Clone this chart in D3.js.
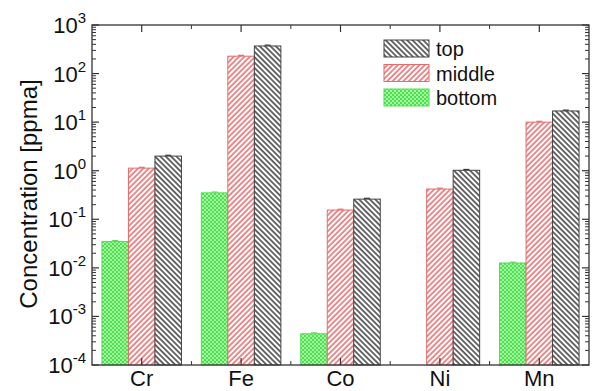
<!DOCTYPE html>
<html>
<head>
<meta charset="utf-8">
<script src="https://cdn.jsdelivr.net/npm/d3@7"></script>
<style>
  body { margin: 0; background: #fff; }
  text { font-family: Arial, "Liberation Sans", sans-serif; }
</style>
</head>
<body>
<div id="chart"></div>
<script>
// data
var elements = ["Cr", "Fe", "Co", "Ni", "Mn"];
var series = ["bottom", "middle", "top"];
var bottomVals = [0.035, 0.35, 0.00044, null, 0.0126];
var middleVals = [1.13, 228, 0.155, 0.42, 10];
var topVals = [2.0, 370, 0.26, 1.02, 17];
var yExponents = [-4, -3, -2, -1, 0, 1, 2, 3];

var W = 593, H = 391;
var margin = {top: 25, right: 4, bottom: 26, left: 92},
    width = W - margin.left - margin.right,
    height = H - margin.top - margin.bottom;

var svg = d3.select("#chart").append("svg")
    .attr("width", W).attr("height", H);

// fill patterns
var defs = svg.append("defs");
var pTop = defs.append("pattern").attr("id", "hatchTop")
    .attr("patternUnits", "userSpaceOnUse").attr("width", 3.8).attr("height", 6)
    .attr("patternTransform", "rotate(-45)");
pTop.append("rect").attr("width", 3.8).attr("height", 6).attr("fill", "#fff");
pTop.append("line").attr("x1", 1).attr("y1", 0).attr("x2", 1).attr("y2", 6)
    .attr("stroke", "#3a3a3a").attr("stroke-width", 1.5);

var pMid = defs.append("pattern").attr("id", "hatchMid")
    .attr("patternUnits", "userSpaceOnUse").attr("width", 3.8).attr("height", 6)
    .attr("patternTransform", "rotate(45)");
pMid.append("rect").attr("width", 3.8).attr("height", 6).attr("fill", "#fff");
pMid.append("line").attr("x1", 1).attr("y1", 0).attr("x2", 1).attr("y2", 6)
    .attr("stroke", "#e45c5e").attr("stroke-width", 1.4);

var pBot = defs.append("pattern").attr("id", "checkBot")
    .attr("patternUnits", "userSpaceOnUse").attr("width", 4).attr("height", 4);
pBot.append("rect").attr("width", 4).attr("height", 4).attr("fill", "#48e448");
pBot.append("rect").attr("x", 0).attr("y", 0).attr("width", 2).attr("height", 2).attr("fill", "#a8f6a8");
pBot.append("rect").attr("x", 2).attr("y", 2).attr("width", 2).attr("height", 2).attr("fill", "#a8f6a8");

var fills = {top: "url(#hatchTop)", middle: "url(#hatchMid)", bottom: "url(#checkBot)"};
var strokes = {top: "#444", middle: "#e86a6a", bottom: "#5ad85a"};
var values = {top: topVals, middle: middleVals, bottom: bottomVals};

var g = svg.append("g")
    .attr("transform", "translate(" + margin.left + "," + margin.top + ")");

var x = d3.scaleLinear().domain([0.5, 5.5]).range([0, width]);
var y = d3.scaleLog().domain([1e-4, 1e3]).range([height, 0]);
var bw = x(1.8) - x(1); // full group width
var barW = bw / 3;

// bars
series.forEach(function(s, si) {
  var rows = elements.map(function(e, i) { return {i: i, v: values[s][i]}; })
    .filter(function(d) { return d.v != null; });
  g.selectAll(".bar-" + s).data(rows).enter().append("rect")
    .attr("x", function(d) { return x(d.i + 1) - bw / 2 + si * barW; })
    .attr("y", function(d) { return y(d.v); })
    .attr("width", barW)
    .attr("height", function(d) { return height - y(d.v); })
    .attr("fill", fills[s])
    .attr("stroke", strokes[s])
    .attr("stroke-width", 1);
  // small error caps
  g.selectAll(".err-" + s).data(rows).enter().append("line")
    .attr("x1", function(d) { return x(d.i + 1) - bw / 2 + si * barW + barW / 2 - 3; })
    .attr("x2", function(d) { return x(d.i + 1) - bw / 2 + si * barW + barW / 2 + 3; })
    .attr("y1", function(d) { return y(d.v * 1.04); })
    .attr("y2", function(d) { return y(d.v * 1.04); })
    .attr("stroke", s == "top" ? "#333" : strokes[s]).attr("stroke-width", 1.2);
});

// frame
g.append("rect").attr("width", width).attr("height", height)
  .attr("fill", "none").attr("stroke", "#333").attr("stroke-width", 1.3);

// y ticks (inward, both sides, with minor)
var minor = [];
for (var e = -4; e < 3; e++) for (var k = 2; k <= 9; k++) minor.push(k * Math.pow(10, e));
[0, width].forEach(function(xx, side) {
  var dir = side == 0 ? 1 : -1;
  g.selectAll(".ymaj" + side).data(yExponents).enter().append("line")
    .attr("x1", xx).attr("x2", xx + dir * 7)
    .attr("y1", function(d) { return y(Math.pow(10, d)); })
    .attr("y2", function(d) { return y(Math.pow(10, d)); })
    .attr("stroke", "#333").attr("stroke-width", 1.2);
  g.selectAll(".ymin" + side).data(minor).enter().append("line")
    .attr("x1", xx).attr("x2", xx + dir * 4)
    .attr("y1", function(d) { return y(d); })
    .attr("y2", function(d) { return y(d); })
    .attr("stroke", "#333").attr("stroke-width", 1);
});

// x ticks (inward, top and bottom)
var xMaj = d3.range(1, 6), xMin = d3.range(1.5, 5.5, 1);
[0, height].forEach(function(yy, side) {
  var dir = side == 0 ? 1 : -1;
  g.selectAll(".xmaj" + side).data(xMaj).enter().append("line")
    .attr("x1", function(d) { return x(d); }).attr("x2", function(d) { return x(d); })
    .attr("y1", yy).attr("y2", yy + dir * 7)
    .attr("stroke", "#333").attr("stroke-width", 1.2);
  g.selectAll(".xmin" + side).data(xMin).enter().append("line")
    .attr("x1", function(d) { return x(d); }).attr("x2", function(d) { return x(d); })
    .attr("y1", yy).attr("y2", yy + dir * 4)
    .attr("stroke", "#333").attr("stroke-width", 1);
});

// y tick labels 10^n
var yl = g.selectAll(".ylab").data(yExponents).enter().append("text")
  .attr("x", -6).attr("y", function(d) { return y(Math.pow(10, d)) + 8; })
  .attr("text-anchor", "end").style("font-size", "22px").attr("fill", "#111");
yl.append("tspan").text("10");
yl.append("tspan").attr("dy", -10).style("font-size", "15px").text(function(d) { return d; });

// x labels
g.selectAll(".xlab").data(elements).enter().append("text")
  .attr("x", function(d, i) { return x(i + 1); })
  .attr("y", height + 21)
  .attr("text-anchor", "middle").style("font-size", "22px").attr("fill", "#111")
  .text(function(d) { return d; });

// y title
svg.append("text")
  .attr("transform", "translate(37,194) rotate(-90)")
  .attr("text-anchor", "middle").style("font-size", "24px").attr("fill", "#111")
  .text("Concentration [ppma]");

// legend
var legend = ["top", "middle", "bottom"];
var lg = svg.append("g").attr("transform", "translate(384,40)");
lg.selectAll("rect").data(legend).enter().append("rect")
  .attr("x", 0).attr("y", function(d, i) { return i * 24.5; })
  .attr("width", 45).attr("height", 17)
  .attr("fill", function(d) { return fills[d]; })
  .attr("stroke", function(d) { return strokes[d]; });
lg.selectAll("text").data(legend).enter().append("text")
  .attr("x", 52).attr("y", function(d, i) { return i * 24.5 + 16; })
  .style("font-size", "20px").attr("fill", "#111")
  .text(function(d) { return d; });
</script>
</body>
</html>
